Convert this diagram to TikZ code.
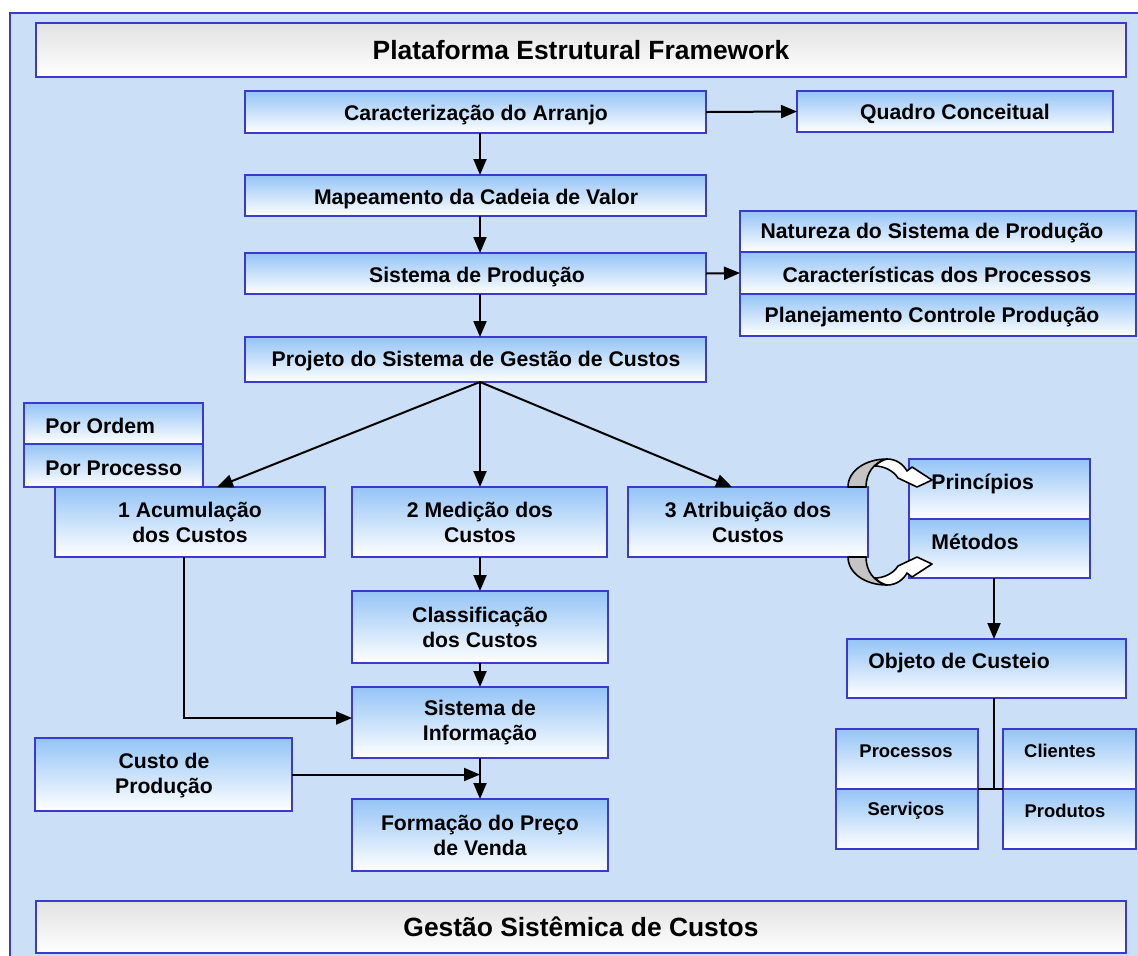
\documentclass[tikz,border=0pt]{standalone}
\usepackage{fontspec}
\setmainfont{Liberation Sans}
\usetikzlibrary{arrows.meta,calc}

\definecolor{bgblue}{HTML}{CBE0F6}
\definecolor{edgeblue}{HTML}{3A3AD0}
\definecolor{boxtop}{HTML}{94C4F6}
\definecolor{bartop}{HTML}{E2E2E2}
\definecolor{foldgray}{HTML}{C4C4C4}

% box from corner (x1,y1) to (x2,y2), in pixel-like units
\newcommand{\panelat}[6][]{%
  \node[panel,#1,minimum width={(#5-#3)*0.5pt},minimum height={(#6-#4)*0.5pt}]
    (#2) at ({(#3+#5)/2},{(#4+#6)/2}) {};}
% caption placed at (x,y)
\newcommand{\captionat}[5][]{\node[txt,#1] (#2) at (#3,#4) {#5};}

\begin{document}
\begin{tikzpicture}[x=0.5pt,y=-0.5pt,
  panel/.style={draw=edgeblue,line width=1pt,top color=boxtop,bottom color=white,
    inner sep=0pt,outer sep=0pt},
  bar/.style={panel,top color=bartop,bottom color=white},
  txt/.style={font={\fontsize{10.6}{12.5}\selectfont\bfseries},align=center,inner sep=0pt},
  small/.style={font={\fontsize{9.2}{11}\selectfont\bfseries}},
  big/.style={font={\fontsize{13.2}{15}\selectfont\bfseries}},
  arr/.style={line width=1pt,-{Triangle[length=8pt,width=6.5pt]}},
  link/.style={line width=1pt},
  back/.style={fill=foldgray,draw=black,line width=0.8pt,line join=round},
  front/.style={fill=white,draw=black,line width=0.8pt,line join=round}]

\useasboundingbox (0,0) rectangle (1138,955);
\clip (0,0) rectangle (1138,955);

% hatched backdrop with its frame
\path[fill=bgblue,draw=edgeblue,line width=1pt] (10,13) rectangle (1160,975);

% header and footer bars
\panelat[bar]{title}{36}{23}{1126}{77}
\captionat[big]{title-t}{581}{50}{Plataforma Estrutural Framework}
\panelat[bar]{gestao}{36}{901}{1126}{953}
\captionat[big]{gestao-t}{581}{927}{Gestão Sistêmica de Custos}

% main column
\panelat{carac}{245}{91}{706}{133}
\captionat{carac-t}{476}{115}{Caracterização do Arranjo}
\panelat{quadro}{797}{91}{1113}{132}
\captionat{quadro-t}{955}{114}{Quadro Conceitual}
\panelat{mapa}{245}{175}{706}{216}
\captionat{mapa-t}{476}{199}{Mapeamento da Cadeia de Valor}
\panelat{sisprod}{245}{253}{706}{294}
\captionat{sisprod-t}{477}{277}{Sistema de Produção}
\panelat{projeto}{245}{337}{706}{382}
\captionat{projeto-t}{476}{361}{Projeto do Sistema de Gestão de Custos}

% production system stack
\panelat{natureza}{740}{211}{1136}{252}
\captionat{natureza-t}{932}{233}{Natureza do Sistema de Produção}
\panelat{caract}{740}{252}{1136}{294}
\captionat{caract-t}{937}{275}{Características dos Processos}
\panelat{planej}{740}{294}{1136}{336}
\captionat{planej-t}{932}{317}{Planejamento Controle Produção}

% accumulation types
\panelat{ordem}{24}{403}{203}{444}
\captionat[anchor=west]{ordem-t}{45}{426}{Por Ordem}
\panelat{processo}{24}{444}{203}{487}
\captionat[anchor=west]{processo-t}{45}{468}{Por Processo}

% three branches
\panelat{acum}{55}{487}{325}{557}
\captionat{acum-t}{190}{522}{1 Acumulação\\dos Custos}
\panelat{medicao}{352}{487}{607}{557}
\captionat{medicao-t}{480}{522}{2 Medição dos\\Custos}
\panelat{atrib}{628}{487}{868}{557}
\captionat{atrib-t}{748}{522}{3 Atribuição dos\\Custos}

\panelat{princ}{909}{459}{1090}{519}
\captionat[anchor=west]{princ-t}{931}{484}{Princípios}
\panelat{metodos}{909}{519}{1090}{578}
\captionat[anchor=west]{metodos-t}{931}{542}{Métodos}

\panelat{classif}{352}{591}{608}{663}
\captionat{classif-t}{480}{627}{Classificação\\dos Custos}
\panelat{sisinfo}{352}{687}{608}{758}
\captionat{sisinfo-t}{480}{722}{Sistema de\\Informação}
\panelat{custo}{35}{738}{292}{811}
\captionat{custo-t}{164}{775}{Custo de\\Produção}
\panelat{formacao}{352}{799}{608}{871}
\captionat{formacao-t}{480}{835}{Formação do Preço\\de Venda}

% cost objects
\panelat{objeto}{847}{639}{1126}{698}
\captionat{objeto-t}{959}{663}{Objeto de Custeio}
\panelat{processos}{836}{729}{978}{789}
\captionat[small]{processos-t}{906}{751}{Processos}
\panelat{servicos}{836}{789}{978}{849}
\captionat[small]{servicos-t}{906}{811}{Serviços}
\panelat{clientes}{1003}{729}{1136}{789}
\captionat[small]{clientes-t}{1060}{751}{Clientes}
\panelat{produtos}{1003}{789}{1136}{849}
\captionat[small]{produtos-t}{1065}{811}{Produtos}

% connectors
\coordinate (spine) at (480,0);
\coordinate (col) at (994,0);
\draw[arr] (carac.east) -- (quadro.west);
\draw[arr] (carac.south -| spine) -- (mapa.north -| spine);
\draw[arr] (mapa.south -| spine) -- (sisprod.north -| spine);
\draw[arr] (sisprod.south -| spine) -- (projeto.north -| spine);
\draw[arr] (sisprod.east) -- (caract.west);
\draw[arr] (projeto.south -| spine) -- ([xshift=13.5pt]acum.north);
\draw[arr] (projeto.south -| spine) -- (medicao.north -| spine);
\draw[arr] (projeto.south -| spine) -- ([xshift=-8pt]atrib.north);
\draw[arr] (medicao.south -| spine) -- (classif.north -| spine);
\draw[arr] (classif.south -| spine) -- (sisinfo.north -| spine);
\draw[arr] (sisinfo.south -| spine) -- (formacao.north -| spine);
\draw[arr] ([xshift=-3pt]acum.south) |- ([yshift=2.25pt]sisinfo.west);
\draw[arr] (custo.east) -- (custo.east -| spine);
\draw[arr] (metodos.south -| col) -- (objeto.north -| col);
\draw[link] (objeto.south -| col) -- (col |- processos.south);
\draw[link] (processos.south east) -- (clientes.south west);

% curved arrows linking the attribution box with principles and methods
\foreach \cy/\flip in {487/1,557/-1}{
  \begin{scope}[shift={(887,\cy)},yscale=\flip]
    \path[back] (-39,0) .. controls (-39,-16) and (-22,-28) .. (0,-28)
      .. controls (-13,-25) and (-21,-14) .. (-21,0) -- cycle;
    \path[front] (0,-28) .. controls (9,-28) and (16,-23) .. (20,-16)
      -- (25,-20) -- (45,-7) -- (30,0) -- (11,-9)
      .. controls (6,-17) and (-4,-21) .. (-12,-21)
      .. controls (-8,-25) and (-4,-27) .. (0,-28) -- cycle;
  \end{scope}}
\end{tikzpicture}
\end{document}
